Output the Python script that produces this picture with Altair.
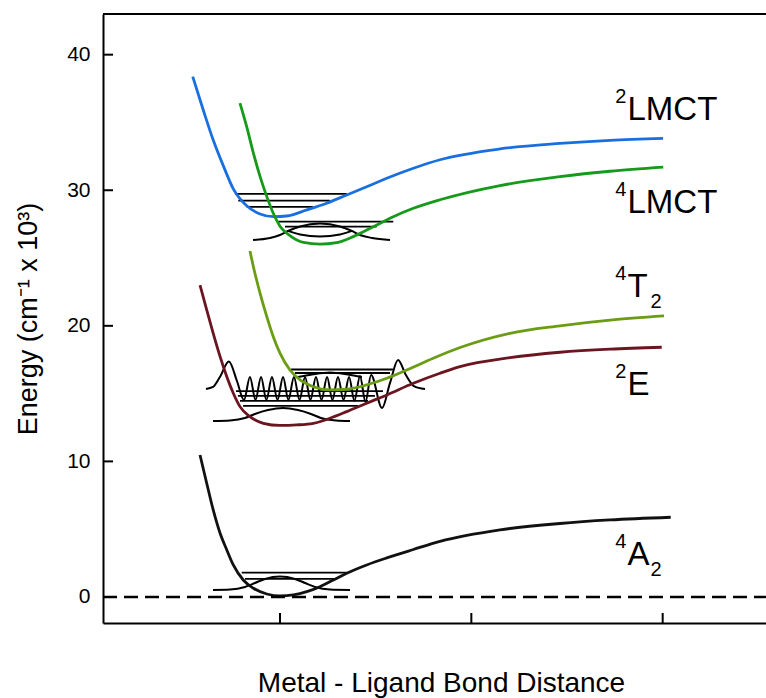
import altair as alt
import pandas as pd

# ---------------- potential energy curves (x: bond distance, arbitrary units; y: energy, 10^3 cm^-1)
series_names = ["2LMCT", "4LMCT", "4T2", "2E", "4A2"]
series_colors = ["#1a6fdf", "#17991a", "#6a9c14", "#6b1520", "#111111"]

lmct2_x = [0.544, 0.599, 0.651, 0.704, 0.756, 0.826, 0.896, 0.965, 1.035, 1.140, 1.244, 1.349,
           1.453, 1.558, 1.697, 1.836, 2.150, 2.463, 2.725, 3.002]
lmct2_y = [38.38, 35.92, 33.71, 31.80, 30.10, 28.85, 28.25, 28.05, 28.10, 28.55, 29.04, 29.65,
           30.26, 30.88, 31.62, 32.25, 33.05, 33.45, 33.68, 33.83]

lmct4_x = [0.791, 0.826, 0.861, 0.896, 0.931, 0.965, 1.000, 1.052, 1.122, 1.209, 1.296, 1.383,
           1.488, 1.592, 1.697, 1.836, 2.150, 2.463, 2.725, 3.003]
lmct4_y = [36.42, 34.69, 32.73, 31.00, 29.53, 28.30, 27.35, 26.65, 26.15, 26.02, 26.13, 26.58,
           27.31, 28.05, 28.67, 29.30, 30.35, 31.00, 31.40, 31.70]

t2_x = [0.843, 0.861, 0.896, 0.931, 0.965, 1.000, 1.052, 1.105, 1.174, 1.261, 1.349, 1.453,
        1.558, 1.662, 1.801, 1.941, 2.202, 2.463, 2.725, 3.007]
t2_y = [25.52, 24.36, 22.40, 20.68, 19.20, 17.98, 16.74, 16.01, 15.51, 15.27, 15.32, 15.64,
        16.13, 16.74, 17.61, 18.40, 19.45, 20.00, 20.42, 20.73]

e_x = [0.582, 0.617, 0.651, 0.687, 0.722, 0.756, 0.791, 0.843, 0.913, 1.000, 1.087, 1.174,
       1.261, 1.349, 1.453, 1.558, 1.697, 1.836, 1.941, 2.202, 2.463, 2.725, 2.995]
e_y = [23.01, 21.17, 19.45, 17.73, 16.25, 15.03, 14.04, 13.30, 12.81, 12.65, 12.69, 12.81,
       13.18, 13.67, 14.29, 14.90, 15.76, 16.50, 16.99, 17.65, 18.05, 18.28, 18.42]

a2_x = [0.582, 0.617, 0.651, 0.687, 0.722, 0.756, 0.808, 0.861, 0.931, 1.000, 1.070, 1.140,
        1.209, 1.279, 1.349, 1.453, 1.558, 1.697, 1.836, 2.150, 2.463, 2.725, 3.042]
a2_y = [10.47, 8.39, 6.42, 4.70, 3.47, 2.36, 1.25, 0.64, 0.22, 0.07, 0.15, 0.39,
        0.76, 1.25, 1.75, 2.36, 2.88, 3.50, 4.10, 4.95, 5.42, 5.68, 5.88]

# ---------------- vibrational levels (horizontal segments)
lvl_y = [29.73, 29.23, 28.77, 27.68, 27.31, 16.78, 16.52, 15.19, 14.83, 14.46, 14.09, 1.79, 1.33]
lvl_x1 = [0.765, 0.782, 0.826, 0.991, 1.026, 1.057, 1.078, 0.770, 0.780, 0.791, 0.807, 0.800, 0.817]
lvl_x2 = [1.349, 1.261, 1.172, 1.592, 1.505, 1.590, 1.575, 1.538, 1.496, 1.460, 1.408, 1.349, 1.296]

# ---------------- vibrational wavefunctions (black)
wf_a2_x = [0.650, 0.739, 0.817, 0.869, 0.922, 1.000, 1.078, 1.131, 1.183, 1.261, 1.366]
wf_a2_y = [0.52, 0.55, 0.74, 1.03, 1.33, 1.51, 1.33, 1.03, 0.74, 0.55, 0.52]

wf_e_x = [0.650, 0.739, 0.817, 0.869, 0.937, 1.016, 1.094, 1.162, 1.214, 1.293, 1.366]
wf_e_y = [12.98, 13.02, 13.20, 13.50, 13.79, 13.94, 13.79, 13.50, 13.20, 13.02, 12.98]

wf_l4_x = [0.859, 0.948, 1.000, 1.042, 1.105, 1.209, 1.314, 1.376, 1.418, 1.481, 1.575]
wf_l4_y = [26.33, 26.48, 26.70, 27.00, 27.33, 27.55, 27.33, 27.00, 26.70, 26.48, 26.33]

wf_l4b_x = [1.042, 1.105, 1.209, 1.314, 1.376]
wf_l4b_y = [27.00, 26.74, 26.59, 26.74, 27.00]

wf_t2_x = [1.094, 1.167, 1.261, 1.355, 1.428]
wf_t2_y = [16.23, 16.41, 16.56, 16.41, 16.23]

wave_x = [0.613, 0.650, 0.686, 0.733, 0.775, 0.812, 0.843, 0.872, 0.901, 0.929, 0.958, 0.987,
          1.016, 1.044, 1.073, 1.102, 1.131, 1.159, 1.188, 1.217, 1.246, 1.274, 1.303, 1.332,
          1.361, 1.389, 1.418, 1.447, 1.476, 1.533, 1.575, 1.617, 1.658, 1.700, 1.758]
wave_y = [15.34, 15.49, 16.23, 17.37, 15.93, 14.53, 16.23, 14.53, 16.23, 14.53, 16.23, 14.53,
          16.23, 14.53, 16.23, 14.53, 16.23, 14.53, 16.23, 14.53, 16.23, 14.53, 16.23, 14.53,
          16.23, 14.46, 16.30, 14.38, 16.38, 13.94, 15.79, 17.48, 16.38, 15.56, 15.34]

# ---------------- state labels
label_main = ["LMCT", "LMCT", "T", "E", "A"]
label_sup = ["2", "4", "4", "2", "4"]
label_sub = ["", "", "2", "", "2"]
label_x = [2.816, 2.816, 2.816, 2.816, 2.816]
label_y = [35.18, 28.30, 22.15, 14.90, 2.36]

y_tick_values = [0, 10, 20, 30, 40]
x_tick_values = [1, 2, 3]
zero_line = [0]

# ---------------- build tables
curve_sets = [(series_names[0], lmct2_x, lmct2_y), (series_names[1], lmct4_x, lmct4_y),
              (series_names[2], t2_x, t2_y), (series_names[3], e_x, e_y),
              (series_names[4], a2_x, a2_y)]
curves = pd.concat([pd.DataFrame({"x": xs, "y": ys, "series": n}) for n, xs, ys in curve_sets])

wf_sets = [("a2", wf_a2_x, wf_a2_y), ("e", wf_e_x, wf_e_y), ("l4", wf_l4_x, wf_l4_y),
           ("l4b", wf_l4b_x, wf_l4b_y), ("t2", wf_t2_x, wf_t2_y), ("wave", wave_x, wave_y)]
waves = pd.concat([pd.DataFrame({"x": xs, "y": ys, "wid": n}) for n, xs, ys in wf_sets])

levels = pd.DataFrame({"x": lvl_x1, "x2": lvl_x2, "y": lvl_y})
labels = pd.DataFrame({"x": label_x, "y": label_y, "main": label_main,
                       "sup": label_sup, "sub": label_sub})

W, H = 663, 609
FONT = "Liberation Sans"

xscale = alt.Scale(domain=[0.075, 3.54], nice=False, zero=False)
yscale = alt.Scale(domain=[-1.92, 43.0], nice=False, zero=False)

x_axis = alt.Axis(title="Metal - Ligand Bond Distance", labels=False, ticks=False, grid=False,
                  domainColor="black", domainWidth=2, titleFont=FONT, titleFontSize=28,
                  titleFontWeight="normal", titleColor="black", titleX=338, titleY=60,
                  titleBaseline="middle")
y_axis = alt.Axis(title="Energy (cm⁻¹ x 10³)", values=y_tick_values, ticks=False, grid=False,
                  labelFont=FONT, labelFontSize=21, labelColor="black", labelPadding=13,
                  domainColor="black", domainWidth=2, titleFont=FONT, titleFontSize=27,
                  titleFontWeight="normal", titleColor="black", titleX=-75, titleY=304.5,
                  titleBaseline="middle")


def X(field="x"):
    return alt.X(f"{field}:Q", scale=xscale, axis=x_axis)


def Y(field="y"):
    return alt.Y(f"{field}:Q", scale=yscale, axis=y_axis)


level_layer = alt.Chart(levels).mark_rule(color="black", strokeWidth=1.8).encode(
    x=X(), x2="x2:Q", y=Y())

wave_layer = alt.Chart(waves).mark_line(color="black", strokeWidth=2, interpolate="monotone").encode(
    x=X(), y=Y(), detail="wid:N")

curve_layer = alt.Chart(curves).mark_line(strokeWidth=2.8, interpolate="monotone").encode(
    x=X(), y=Y(),
    color=alt.Color("series:N", scale=alt.Scale(domain=series_names, range=series_colors), legend=None))

zero_layer = alt.Chart(pd.DataFrame({"y": zero_line})).mark_rule(
    color="black", strokeWidth=2.4, strokeDash=[14, 7]).encode(
    y=Y(), x=alt.value(0), x2=alt.value(W))

ytick_layer = alt.Chart(pd.DataFrame({"y": y_tick_values})).mark_rule(
    color="black", strokeWidth=2).encode(y=Y(), x=alt.value(0), x2=alt.value(10))

xtick_layer = alt.Chart(pd.DataFrame({"x": x_tick_values})).mark_rule(
    color="black", strokeWidth=2).encode(x=X(), y=alt.value(H), y2=alt.value(H - 10))

top_layer = alt.Chart(pd.DataFrame({"y": zero_line})).mark_rule(
    color="black", strokeWidth=2).encode(x=alt.value(0), x2=alt.value(W), y=alt.value(0))

main_text = alt.Chart(labels).mark_text(
    font=FONT, fontSize=33, align="left", baseline="alphabetic", color="black").encode(
    x=X(), y=Y(), text="main:N")
sup_text = alt.Chart(labels).mark_text(
    font=FONT, fontSize=20, align="right", baseline="alphabetic", color="black", dx=-1, dy=-17).encode(
    x=X(), y=Y(), text="sup:N")
sub_text = alt.Chart(labels).mark_text(
    font=FONT, fontSize=20, align="left", baseline="alphabetic", color="black", dx=23, dy=11).encode(
    x=X(), y=Y(), text="sub:N")

chart = alt.layer(
    level_layer, wave_layer, curve_layer, zero_layer, ytick_layer, xtick_layer, top_layer,
    main_text, sup_text, sub_text
).properties(
    width=W, height=H,
    padding={"left": 103, "top": 14, "right": 0, "bottom": 75},
    autosize=alt.AutoSizeParams(type="none"),
    background="white",
).configure_view(stroke=None)

chart.save("out.html", embed_options={"renderer": "svg", "actions": False})
